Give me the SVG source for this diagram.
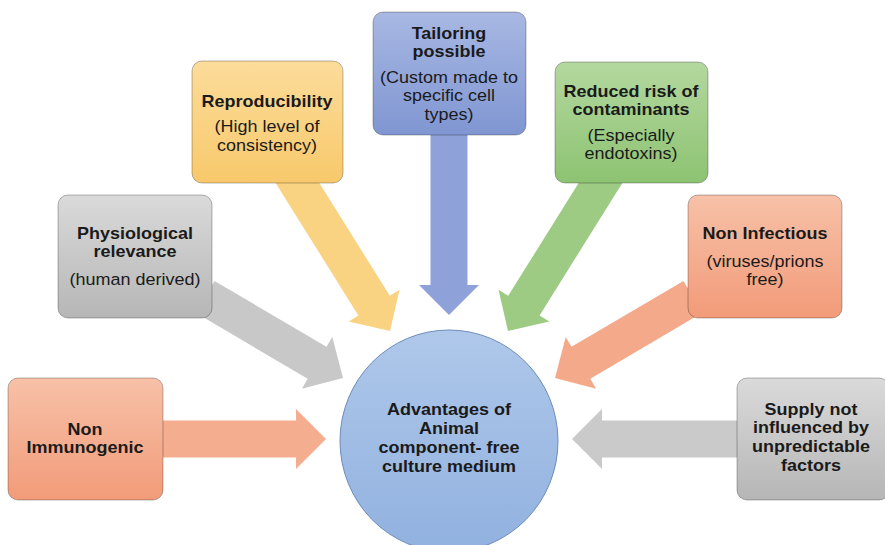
<svg xmlns="http://www.w3.org/2000/svg" width="885" height="545" viewBox="0 0 885 545">
<defs>
<linearGradient id="gY" x1="0" y1="0" x2="0" y2="1"><stop offset="0" stop-color="#FCDC9B"/><stop offset="1" stop-color="#F8C96B"/></linearGradient>
<linearGradient id="gB" x1="0" y1="0" x2="0" y2="1"><stop offset="0" stop-color="#A8B8E3"/><stop offset="1" stop-color="#8096D2"/></linearGradient>
<linearGradient id="gG" x1="0" y1="0" x2="0" y2="1"><stop offset="0" stop-color="#B4D89F"/><stop offset="1" stop-color="#8DC372"/></linearGradient>
<linearGradient id="gO" x1="0" y1="0" x2="0" y2="1"><stop offset="0" stop-color="#F7C1A8"/><stop offset="1" stop-color="#F29B79"/></linearGradient>
<linearGradient id="gR" x1="0" y1="0" x2="0" y2="1"><stop offset="0" stop-color="#DADADA"/><stop offset="1" stop-color="#B6B6B6"/></linearGradient>
<linearGradient id="gC" x1="0" y1="0" x2="0" y2="1"><stop offset="0" stop-color="#AFC8EA"/><stop offset="1" stop-color="#91B1DF"/></linearGradient>
</defs>
<style>
.box{stroke:#000;stroke-opacity:0.28;stroke-width:1}
.t{font-family:"Liberation Sans",Arial,sans-serif;fill:#1a1a1a;text-anchor:middle;font-size:16.5px}
.b{font-weight:bold}
.r{font-weight:normal}
</style>
<g id="connectors">
<polygon fill="#8EA2D9" points="430.5,125 430.5,285 419,285 449,315 479,285 467.5,285 467.5,125"/>
<polygon fill="#F9D282" points="273.6,179.7 358.4,315.4 348.7,321.5 390,331 399.5,289.7 389.8,295.8 305,160.1"/>
<polygon fill="#9DCB84" points="624.4,179.7 539.6,315.4 549.3,321.5 508,331 498.5,289.7 508.2,295.8 593,160.1"/>
<polygon fill="#C8C8C8" points="195.7,312.8 307.7,378.75 301.9,388.7 343,378 332.3,336.9 326.5,346.85 214.5,280.95"/>
<polygon fill="#F4A98A" points="702.3,312.8 590.3,378.75 596.1,388.7 555,378 565.7,336.9 571.5,346.85 683.5,280.95"/>
<polygon fill="#F4AD8F" points="150,420.5 296,420.5 296,409 326,439 296,469 296,457.5 150,457.5"/>
<polygon fill="#CACACA" points="748,420.5 602,420.5 602,409 572,439 602,469 602,457.5 748,457.5"/>
</g>
<g id="node-tailoring">
<rect class="box" x="373" y="12" width="153" height="123" rx="10" fill="url(#gB)"/>
<text class="t b" transform="matrix(1.09 0 0 1 -40.41 0)" x="449" y="39"><tspan x="449" y="39">Tailoring</tspan><tspan x="449" y="57.5">possible</tspan><tspan class="r" x="449" y="83">(Custom made to</tspan><tspan class="r" x="449" y="101.5">specific cell</tspan><tspan class="r" x="449" y="120">types)</tspan></text>
</g>
<g id="node-reproducibility">
<rect class="box" x="192" y="61" width="151" height="122" rx="10" fill="url(#gY)"/>
<text class="t b" transform="matrix(1.09 0 0 1 -24.03 0)" x="267" y="107"><tspan x="267" y="107">Reproducibility</tspan><tspan class="r" x="267" y="132">(High level of</tspan><tspan class="r" x="267" y="151">consistency)</tspan></text>
</g>
<g id="node-reduced-risk">
<rect class="box" x="555" y="62" width="153" height="121" rx="10" fill="url(#gG)"/>
<text class="t b" transform="matrix(1.09 0 0 1 -56.79 0)" x="631" y="97"><tspan x="631" y="97">Reduced risk of</tspan><tspan x="631" y="115.5">contaminants</tspan><tspan class="r" x="631" y="141">(Especially</tspan><tspan class="r" x="631" y="159.5">endotoxins)</tspan></text>
</g>
<g id="node-physiological">
<rect class="box" x="58" y="195" width="154" height="123" rx="10" fill="url(#gR)"/>
<text class="t b" transform="matrix(1.09 0 0 1 -12.15 0)" x="135" y="239"><tspan x="135" y="239">Physiological</tspan><tspan x="135" y="257.5">relevance</tspan><tspan class="r" x="135" y="285">(human derived)</tspan></text>
</g>
<g id="node-non-infectious">
<rect class="box" x="688" y="195" width="154" height="123" rx="10" fill="url(#gO)"/>
<text class="t b" transform="matrix(1.09 0 0 1 -68.85 0)" x="765" y="239"><tspan x="765" y="239">Non Infectious</tspan><tspan class="r" x="765" y="267">(viruses/prions</tspan><tspan class="r" x="765" y="285.5">free)</tspan></text>
</g>
<g id="node-non-immunogenic">
<rect class="box" x="8" y="378" width="155" height="122" rx="10" fill="url(#gO)"/>
<text class="t b" transform="matrix(1.09 0 0 1 -7.65 0)" x="85" y="435"><tspan x="85" y="435">Non</tspan><tspan x="85" y="453.5">Immunogenic</tspan></text>
</g>
<g id="node-supply">
<rect class="box" x="737" y="378" width="152" height="122" rx="10" fill="url(#gR)"/>
<text class="t b" transform="matrix(1.09 0 0 1 -72.99 0)" x="811" y="415"><tspan x="811" y="415">Supply not</tspan><tspan x="811" y="433.5">influenced by</tspan><tspan x="811" y="452">unpredictable</tspan><tspan x="811" y="471">factors</tspan></text>
</g>
<g id="node-center">
<ellipse cx="449" cy="441" rx="109" ry="111" fill="url(#gC)" stroke="#6C8CBC" stroke-width="1"/>
<text class="t b" transform="matrix(1.09 0 0 1 -40.41 0)" x="449" y="415"><tspan x="449" y="415">Advantages of</tspan><tspan x="449" y="434">Animal</tspan><tspan x="449" y="453">component- free</tspan><tspan x="449" y="472">culture medium</tspan></text>
</g>
</svg>
